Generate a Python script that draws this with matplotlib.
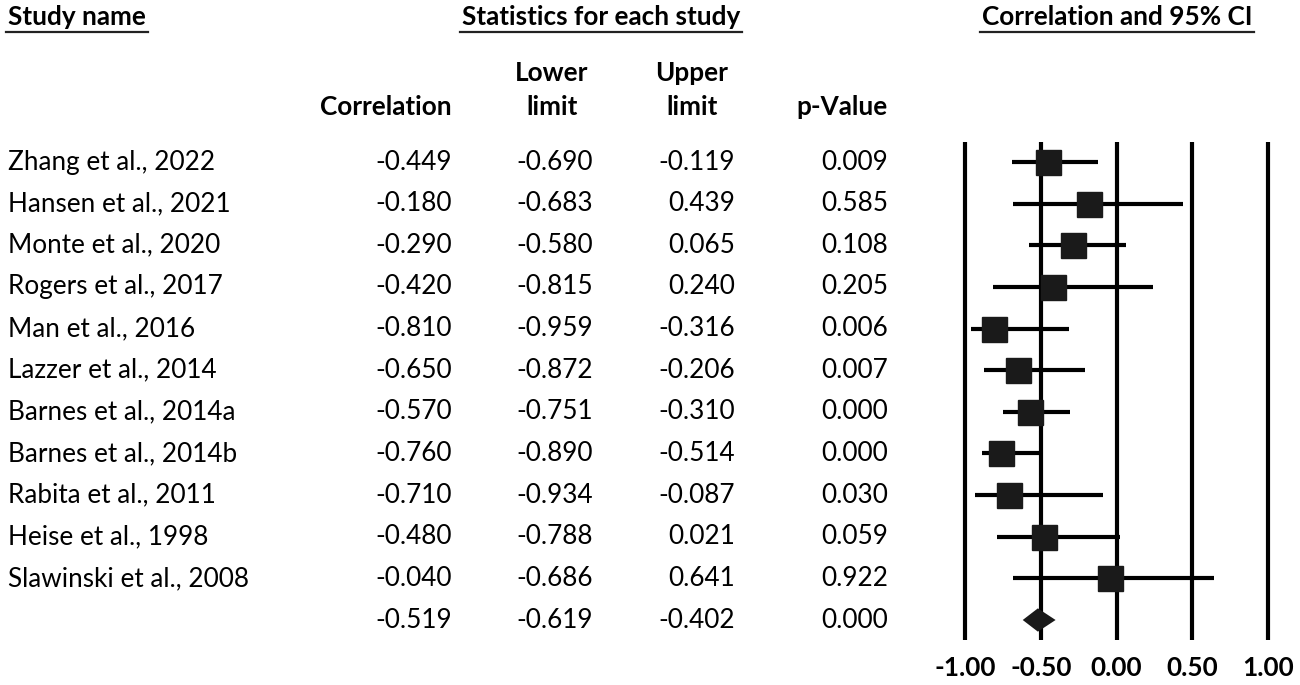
import matplotlib
matplotlib.use("Agg")
import matplotlib.pyplot as plt
import matplotlib.transforms as mtransforms
from matplotlib.lines import Line2D

studies = ["Zhang et al., 2022", "Hansen et al., 2021", "Monte et al., 2020",
           "Rogers et al., 2017", "Man et al., 2016", "Lazzer et al., 2014",
           "Barnes et al., 2014a", "Barnes et al., 2014b", "Rabita et al., 2011",
           "Heise et al., 1998", "Slawinski et al., 2008"]
corr = [-0.449, -0.180, -0.290, -0.420, -0.810, -0.650, -0.570, -0.760, -0.710, -0.480, -0.040]
lower = [-0.690, -0.683, -0.580, -0.815, -0.959, -0.872, -0.751, -0.890, -0.934, -0.788, -0.686]
upper = [-0.119, 0.439, 0.065, 0.240, -0.316, -0.206, -0.310, -0.514, -0.087, 0.021, 0.641]
pval = [0.009, 0.585, 0.108, 0.205, 0.006, 0.007, 0.000, 0.000, 0.030, 0.059, 0.922]
pooled = {"corr": -0.519, "lower": -0.619, "upper": -0.402, "p": 0.000}
xticks = [-1.0, -0.5, 0.0, 0.5, 1.0]
xticklabels = ["-1.00", "-0.50", "0.00", "0.50", "1.00"]

FONT = "Lato"
plt.rcParams['font.family'] = [FONT, 'DejaVu Sans']
FS = 18.8
FSB = 18.8

W, H = 1300, 685
fig = plt.figure(figsize=(W / 100, H / 100), dpi=100)

# forest axes: x=-1 -> 965px, x=1 -> 1268px ; rows 0..11 at 162..620 px
x_left, x_right = 965, 1268
row0, rowN = 162, 620
n_rows = len(studies) + 1
sp = (rowN - row0) / (n_rows - 1)
ytop_px = row0 - 0.5 * sp
ybot_px = rowN + 0.5 * sp
ax = fig.add_axes([x_left / W, 1 - ybot_px / H, (x_right - x_left) / W, (ybot_px - ytop_px) / H])
ax.set_xlim(-1, 1)
ax.set_ylim(n_rows - 0.5, -0.5)
for s in ax.spines.values():
    s.set_visible(False)
ax.set_yticks([])
ax.set_xticks(xticks)
ax.set_xticklabels(xticklabels, fontsize=FSB, fontweight='bold')
ax.tick_params(axis='x', length=0, pad=11)

for xv in xticks:
    ax.plot([xv, xv], [-0.48, n_rows - 1 + 0.48], color='black', lw=3, clip_on=False,
            solid_capstyle='butt', zorder=1)

for i in range(len(studies)):
    ax.plot([lower[i], upper[i]], [i, i], color='black', lw=3, solid_capstyle='butt', zorder=2)
    ax.plot(corr[i], i, marker='s', markersize=18, color='#1a1a1a', zorder=3, linestyle='none')

k = len(studies)
dh = 0.28
ax.fill([pooled["lower"], pooled["corr"], pooled["upper"], pooled["corr"]],
        [k, k - dh, k, k + dh], color='#1a1a1a', zorder=3, lw=0)

# table text
tr = mtransforms.blended_transform_factory(fig.transFigure, ax.transData)
def px(x):
    return x / W

col_study = 8
col_corr = 452
col_low = 593
col_up = 735
col_p = 888

for i in range(len(studies)):
    fig.text(px(col_study), i, studies[i], transform=tr, ha='left', va='center', fontsize=FS)
    fig.text(px(col_corr), i, f"{corr[i]:.3f}", transform=tr, ha='right', va='center', fontsize=FS)
    fig.text(px(col_low), i, f"{lower[i]:.3f}", transform=tr, ha='right', va='center', fontsize=FS)
    fig.text(px(col_up), i, f"{upper[i]:.3f}", transform=tr, ha='right', va='center', fontsize=FS)
    fig.text(px(col_p), i, f"{pval[i]:.3f}", transform=tr, ha='right', va='center', fontsize=FS)

fig.text(px(col_corr), k, f"{pooled['corr']:.3f}", transform=tr, ha='right', va='center', fontsize=FS)
fig.text(px(col_low), k, f"{pooled['lower']:.3f}", transform=tr, ha='right', va='center', fontsize=FS)
fig.text(px(col_up), k, f"{pooled['upper']:.3f}", transform=tr, ha='right', va='center', fontsize=FS)
fig.text(px(col_p), k, f"{pooled['p']:.3f}", transform=tr, ha='right', va='center', fontsize=FS)

# column headers
def ypx(y):
    return 1 - y / H
fig.text(px(col_corr), ypx(107), "Correlation", ha='right', va='center', fontsize=FSB, fontweight='bold')
fig.text(px(552), ypx(73), "Lower", ha='center', va='center', fontsize=FSB, fontweight='bold')
fig.text(px(552), ypx(107), "limit", ha='center', va='center', fontsize=FSB, fontweight='bold')
fig.text(px(692), ypx(73), "Upper", ha='center', va='center', fontsize=FSB, fontweight='bold')
fig.text(px(692), ypx(107), "limit", ha='center', va='center', fontsize=FSB, fontweight='bold')
fig.text(px(col_p), ypx(107), "p-Value", ha='right', va='center', fontsize=FSB, fontweight='bold')

# top headers with underline
tops = [
    fig.text(px(8), ypx(17), "Study name", ha='left', va='center', fontsize=FSB, fontweight='bold'),
    fig.text(px(601), ypx(17), "Statistics for each study", ha='center', va='center', fontsize=FSB, fontweight='bold'),
    fig.text(px(1117), ypx(17), "Correlation and 95% CI", ha='center', va='center', fontsize=FSB, fontweight='bold'),
]
fig.canvas.draw()
r = fig.canvas.get_renderer()
for t in tops:
    bb = t.get_window_extent(r)
    fig.add_artist(Line2D([(bb.x0 - 2) / W, (bb.x1 + 2) / W], [ypx(32), ypx(32)],
                          transform=fig.transFigure, color='#222222', lw=1.6))

fig.savefig("out.png", dpi=100, facecolor='white')
